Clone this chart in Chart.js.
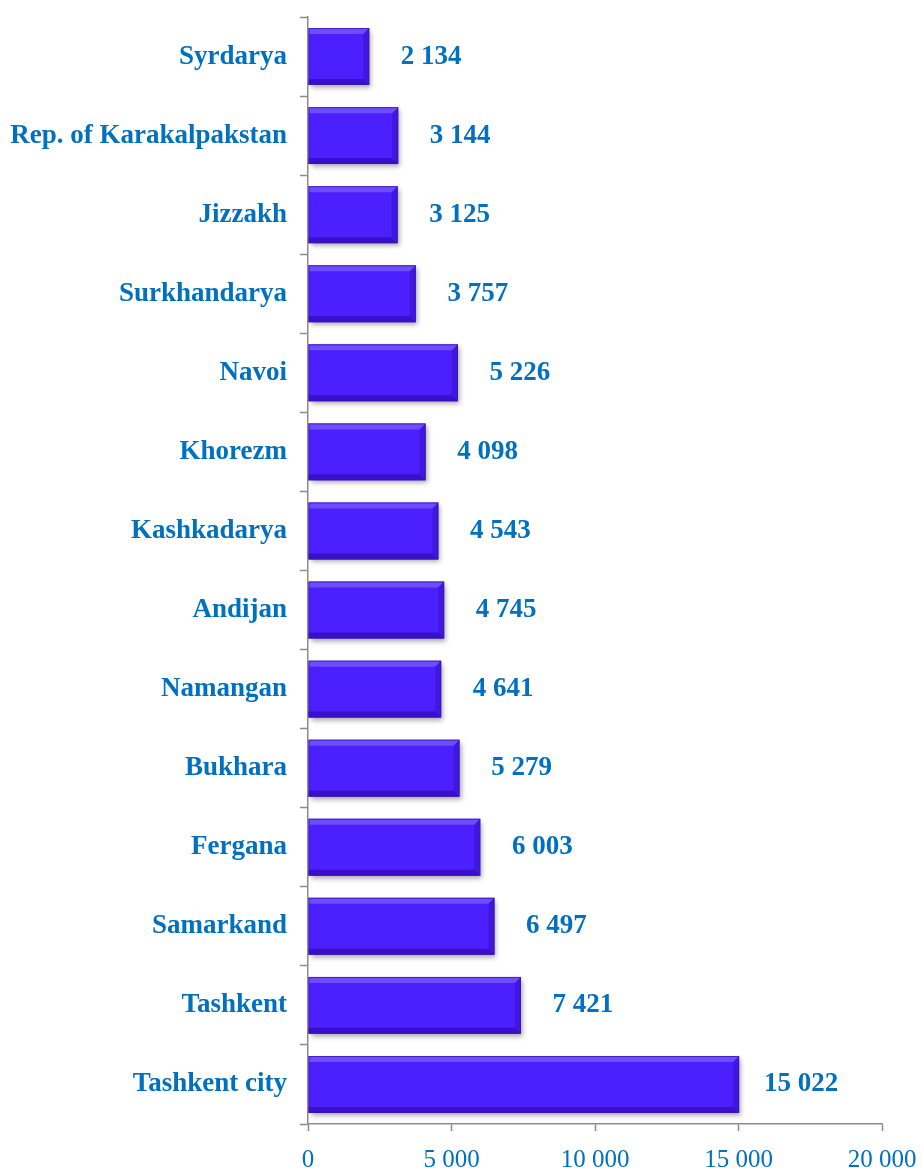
<!DOCTYPE html>
<html>
<head>
<meta charset="utf-8">
<script src="https://cdn.jsdelivr.net/npm/chart.js@4/dist/chart.umd.min.js"></script>
<style>
  html, body { margin: 0; padding: 0; background: #fff; }
  #wrap { width: 922px; height: 1168px; }
</style>
</head>
<body>
<div id="wrap"><canvas id="chart" width="922" height="1168"></canvas></div>
<script>
// Regions, top to bottom as in the picture
const regions = [
    'Syrdarya', 'Rep. of Karakalpakstan', 'Jizzakh', 'Surkhandarya', 'Navoi',
    'Khorezm', 'Kashkadarya', 'Andijan', 'Namangan', 'Bukhara',
    'Fergana', 'Samarkand', 'Tashkent', 'Tashkent city'
];
const values = [
    2134, 3144, 3125, 3757, 5226,
    4098, 4543, 4745, 4641, 5279,
    6003, 6497, 7421, 15022
];
const xTicks = [0, 5000, 10000, 15000, 20000];

const BLUE_TEXT = '#0070C0';
const AXIS_GRAY = '#8c8c8c';
const SERIF = '"Liberation Serif", "Times New Roman", serif';

// 15022 -> "15 022"
function fmt(n) {
    return String(n).replace(/\B(?=(\d{3})+(?!\d))/g, ' ');
}

// Shadow under the bars
const barShadow = {
    id: 'barShadow',
    beforeDatasetDraw(chart) {
        const ctx = chart.ctx;
        ctx.save();
        ctx.shadowColor = 'rgba(0,0,0,0.35)';
        ctx.shadowBlur = 5;
        ctx.shadowOffsetX = 2;
        ctx.shadowOffsetY = 3;
    },
    afterDatasetDraw(chart) {
        chart.ctx.restore();
    }
};

// Bevel edges + value labels
const bevelAndLabels = {
    id: 'bevelAndLabels',
    afterDatasetsDraw(chart) {
        const ctx = chart.ctx;
        const meta = chart.getDatasetMeta(0);
        meta.data.forEach((bar, i) => {
            const left = Math.min(bar.base, bar.x);
            const right = Math.max(bar.base, bar.x);
            const top = bar.y - bar.height / 2;
            const bottom = bar.y + bar.height / 2;
            const b = 6;
            ctx.save();
            // top highlight
            ctx.fillStyle = 'rgba(130,110,255,0.6)';
            ctx.beginPath();
            ctx.moveTo(left, top);
            ctx.lineTo(right, top);
            ctx.lineTo(right - b, top + b);
            ctx.lineTo(left, top + b);
            ctx.closePath();
            ctx.fill();
            // bottom shade
            ctx.fillStyle = 'rgba(40,0,150,0.5)';
            ctx.beginPath();
            ctx.moveTo(left, bottom);
            ctx.lineTo(right, bottom);
            ctx.lineTo(right - b, bottom - b);
            ctx.lineTo(left, bottom - b);
            ctx.closePath();
            ctx.fill();
            // right shade
            ctx.fillStyle = 'rgba(50,10,170,0.4)';
            ctx.beginPath();
            ctx.moveTo(right, top);
            ctx.lineTo(right, bottom);
            ctx.lineTo(right - b, bottom - b);
            ctx.lineTo(right - b, top + b);
            ctx.closePath();
            ctx.fill();
            // outline
            ctx.strokeStyle = 'rgba(60,20,180,0.8)';
            ctx.lineWidth = 1;
            ctx.strokeRect(left + 0.5, top + 0.5, right - left - 1, bottom - top - 1);

            // value label
            ctx.fillStyle = BLUE_TEXT;
            ctx.font = 'bold 27px ' + SERIF;
            ctx.textAlign = 'center';
            ctx.textBaseline = 'middle';
            ctx.fillText(fmt(values[i]), right + 62, bar.y);
            ctx.restore();
        });
    }
};

const ctx = document.getElementById('chart').getContext('2d');
new Chart(ctx, {
    type: 'bar',
    data: {
        labels: regions,
        datasets: [{
            data: values,
            backgroundColor: '#4b1fff',
            borderWidth: 0,
            categoryPercentage: 1,
            barPercentage: 0.72
        }]
    },
    options: {
        indexAxis: 'y',
        responsive: false,
        animation: false,
        layout: { padding: { top: 17, right: 0, bottom: 0, left: 0 } },
        plugins: {
            legend: { display: false },
            tooltip: { enabled: false }
        },
        scales: {
            x: {
                min: 0,
                max: 20000,
                afterBuildTicks(axis) {
                    axis.ticks = xTicks.map(v => ({ value: v }));
                },
                afterFit(axis) {
                    axis.height = 44;
                    axis.paddingLeft = 0;
                    axis.paddingRight = 40;
                },
                border: { display: true, color: AXIS_GRAY, width: 1.5 },
                grid: { drawOnChartArea: false, tickLength: 7, color: AXIS_GRAY, tickWidth: 1.5 },
                ticks: {
                    color: BLUE_TEXT,
                    padding: 14,
                    maxRotation: 0,
                    font: { family: SERIF, size: 25 },
                    callback: (v) => fmt(v)
                }
            },
            y: {
                afterFit(axis) {
                    axis.width = 308;
                    axis.paddingTop = 0;
                    axis.paddingBottom = 0;
                },
                border: { display: true, color: AXIS_GRAY, width: 1.5 },
                grid: { drawOnChartArea: false, tickLength: 8, color: AXIS_GRAY, tickWidth: 1.5 },
                ticks: {
                    color: BLUE_TEXT,
                    padding: 13,
                    font: { family: SERIF, size: 27, weight: 'bold' }
                }
            }
        }
    },
    plugins: [barShadow, bevelAndLabels]
});
</script>
</body>
</html>
